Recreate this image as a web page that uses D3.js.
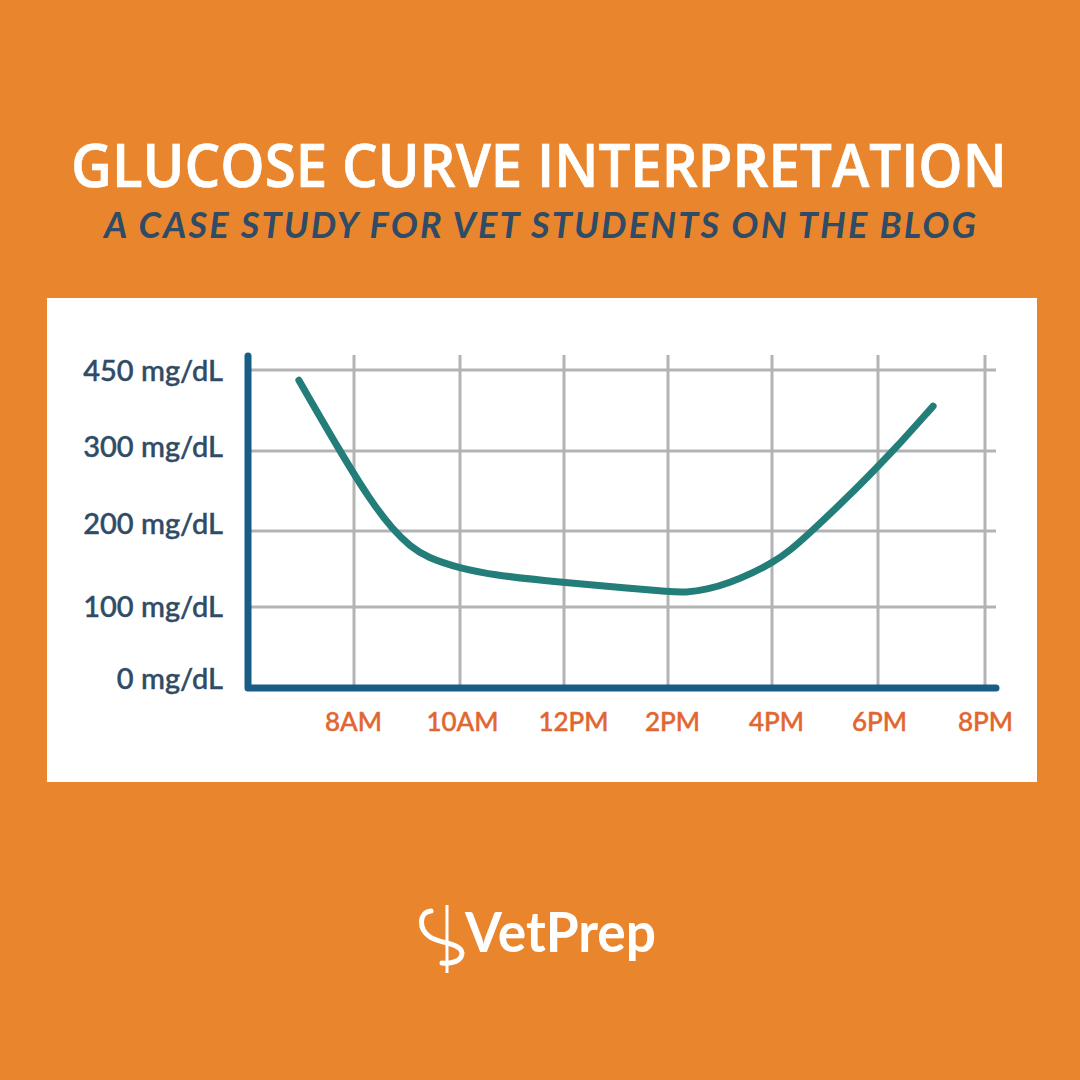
<!DOCTYPE html>
<html>
<head>
<meta charset="utf-8">
<script src="https://cdn.jsdelivr.net/npm/d3@7"></script>
<style>
  html, body { margin: 0; padding: 0; background: #E9862D; }
  svg { display: block; }
  text { font-family: "Open Sans", sans-serif; }
  .axis text { font-family: Lato, sans-serif; font-weight: 500; stroke-width: 0.45px; }
</style>
</head>
<body>
<div id="chart"></div>
<script>
const titleText = 'GLUCOSE CURVE INTERPRETATION'
const subtitleText = 'A CASE STUDY FOR VET STUDENTS ON THE BLOG'
const brandText = 'VetPrep'

// tick hours (24h clock) and labels
const hourTicks = [8, 10, 12, 14, 16, 18, 20]
const hourLabels = ['8AM', '10AM', '12PM', '2PM', '4PM', '6PM', '8PM']
const glucoseTicks = [0, 100, 200, 300, 450]
const glucoseLabels = ['0 mg/dL', '100 mg/dL', '200 mg/dL', '300 mg/dL', '450 mg/dL']

// the curve
const curveHours = [6.96, 7.74, 8.30, 8.74, 9.06, 9.38, 10, 10.63, 12, 13.21, 14.04, 14.33, 14.75, 15.19, 15.63, 16, 16.34, 16.77, 17.47, 18, 18.29, 19.03]
const curveGlucose = [431, 299, 239, 201, 180, 165, 151, 142, 132, 125, 120, 119, 123, 132, 145, 158, 174, 201, 245, 281, 301, 383]

const size = 1080

// the printed axes are not evenly spaced, so both scales are piecewise
const xScale = d3.scaleLinear()
    .domain([6, 8, 10, 12, 14, 16, 18, 20, 20.2])
    .range([248, 354, 460, 564, 668, 772, 878, 985, 996])

const yScale = d3.scaleLinear()
    .domain(glucoseTicks)
    .range([688, 607, 531, 451, 370])

const svg = d3.select('#chart').append('svg')
    .attr('viewBox', `0 0 ${size} ${size}`)
    .attr('width', size)
    .attr('height', size)

svg.append('rect')
    .attr('width', size)
    .attr('height', size)
    .attr('fill', '#E9862D')

svg.append('text')
    .text(titleText)
    .attr('x', 539)
    .attr('y', 187)
    .attr('text-anchor', 'middle')
    .attr('textLength', 936)
    .attr('lengthAdjust', 'spacingAndGlyphs')
    .attr('fill', '#fff')
    .attr('stroke', '#fff')
    .attr('stroke-width', 0.7)
    .style('font-size', '60px')
    .style('font-weight', 600)

svg.append('text')
    .text(subtitleText)
    .attr('x', 540)
    .attr('y', 238)
    .attr('text-anchor', 'middle')
    .attr('textLength', 872)
    .attr('lengthAdjust', 'spacing')
    .attr('fill', '#2F4B66')
    .style('font-family', 'Lato, sans-serif')
    .style('font-size', '36px')
    .style('font-weight', 700)
    .style('font-style', 'italic')

// white panel
svg.append('rect')
    .attr('x', 47)
    .attr('y', 298)
    .attr('width', 990)
    .attr('height', 484)
    .attr('fill', '#fff')

// gridlines
const gridColor = '#B3B3B3'

svg.append('g')
    .selectAll('line')
    .data(hourTicks)
    .enter().append('line')
    .attr('x1', d => xScale(d))
    .attr('x2', d => xScale(d))
    .attr('y1', 355)
    .attr('y2', yScale(0))
    .attr('stroke', gridColor)
    .attr('stroke-width', 3)

svg.append('g')
    .selectAll('line')
    .data(glucoseTicks.slice(1))
    .enter().append('line')
    .attr('x1', xScale(6))
    .attr('x2', 996)
    .attr('y1', d => yScale(d))
    .attr('y2', d => yScale(d))
    .attr('stroke', gridColor)
    .attr('stroke-width', 3)

// axis labels: the printed labels sit a little off their ticks
const xLabelShift = [-1, 2, 9, 4, 4, 1, 0]
const yLabelShift = [-9, 0, -7, -4, 1]

const xAxis = d3.axisBottom(xScale)
    .tickValues(hourTicks)
    .tickSize(0)
    .tickPadding(25)
    .tickFormat((d, i) => hourLabels[i])

const xAxisG = svg.append('g')
    .attr('class', 'axis')
    .attr('transform', 'translate(0,' + yScale(0) + ')')
    .call(xAxis)

xAxisG.select('.domain').remove()
xAxisG.selectAll('text')
    .attr('dx', (d, i) => xLabelShift[i])
    .attr('fill', '#E1662F')
    .attr('stroke', '#E1662F')
    .style('font-size', '26px')

const yAxis = d3.axisLeft(yScale)
    .tickValues(glucoseTicks)
    .tickSize(0)
    .tickPadding(25)
    .tickFormat((d, i) => glucoseLabels[i])

const yAxisG = svg.append('g')
    .attr('class', 'axis')
    .attr('transform', 'translate(' + xScale(6) + ',0)')
    .call(yAxis)

yAxisG.select('.domain').remove()
yAxisG.selectAll('text')
    .attr('dy', (d, i) => 9 + yLabelShift[i])
    .attr('fill', '#2F4B66')
    .attr('stroke', '#2F4B66')
    .style('font-size', '29px')

// axis lines
const axisPath = d3.line()
svg.append('path')
    .attr('d', axisPath([[xScale(6), 356], [xScale(6), yScale(0)], [996, yScale(0)]]))
    .attr('fill', 'none')
    .attr('stroke', '#185C87')
    .attr('stroke-width', 7)
    .attr('stroke-linecap', 'round')
    .attr('stroke-linejoin', 'round')

// glucose curve
const curveLine = d3.line()
    .x(d => xScale(d))
    .y((d, i) => yScale(curveGlucose[i]))
    .curve(d3.curveBasis)

svg.append('path')
    .attr('d', curveLine(curveHours))
    .attr('fill', 'none')
    .attr('stroke', '#237D79')
    .attr('stroke-width', 7)
    .attr('stroke-linecap', 'round')

// logo
const logo = svg.append('g').attr('fill', 'none').attr('stroke', '#fff')

logo.append('path')
    .attr('d', 'M447 905 L447 973')
    .attr('stroke-width', 3)

logo.append('path')
    .attr('d', 'M431 911 C419 912 418 929 430 937 C441 944 461 943 462 953 C462 961 452 964 442 963')
    .attr('stroke-width', 5)
    .attr('stroke-linecap', 'round')

svg.append('text')
    .text(brandText)
    .attr('x', 465)
    .attr('y', 952)
    .attr('textLength', 191)
    .attr('lengthAdjust', 'spacingAndGlyphs')
    .attr('fill', '#fff')
    .style('font-family', 'Lato, sans-serif')
    .style('font-size', '56px')
    .style('font-weight', 700)
</script>
</body>
</html>
